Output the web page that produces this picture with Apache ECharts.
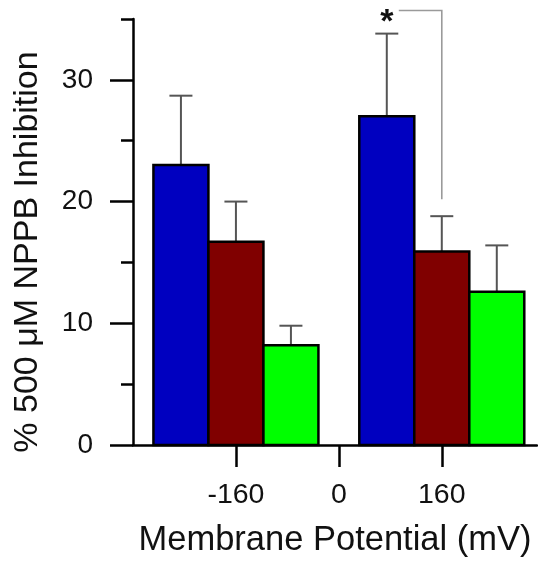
<!DOCTYPE html>
<html><head><meta charset="utf-8">
<script src="https://cdn.jsdelivr.net/npm/echarts@6/dist/echarts.min.js"></script>
<style>html,body{margin:0;padding:0;background:#fff}#c{width:538px;height:563px}</style>
</head><body><div id="c"></div>
<script>
// ---- data ----
const groupPositions = [-160, 160];          // membrane potential (mV)
const xTickValues = [-160, 0, 160];
const yMajorTicks = [0, 10, 20, 30];
const yMinorTicks = [5, 15, 25, 35];
const seriesNames = ['Condition 1', 'Condition 2', 'Condition 3'];
const blueMeans = [23.0, 27.0];
const blueErrors = [5.7, 6.8];
const redMeans = [16.7, 15.9];
const redErrors = [3.3, 2.9];
const greenMeans = [8.2, 12.6];
const greenErrors = [1.6, 3.8];
// significance bracket: at group x, from bar index to bar index, top level, bottom level
const sigX = [160];
const sigFrom = [0];
const sigTo = [1];
const sigTop = [35.7];
const sigBottom = [20.2];
const sigLabel = ['*'];

// ---- style ----
const FONT = "'Liberation Sans', Arial, sans-serif";
const BAR_W = 55;
const CAP_W = 23;
const COLORS = ['#0000C0', '#800000', '#00FF00'];
const ERR_COLOR = '#555555';

function rows(means, errs) {
  return groupPositions.map((x, i) => [x, means[i], errs[i]]);
}

function barRenderer(offsetIndex, color) {
  return function (params, api) {
    const x = api.value(0), m = api.value(1), e = api.value(2);
    const base = api.coord([x, 0]);
    const top = api.coord([x, m]);
    const errTop = api.coord([x, m + e]);
    const cx = base[0] + offsetIndex * BAR_W;
    return {
      type: 'group',
      children: [
        { type: 'line', shape: { x1: cx, y1: top[1], x2: cx, y2: errTop[1] },
          style: { stroke: ERR_COLOR, lineWidth: 2 } },
        { type: 'line', shape: { x1: cx - CAP_W / 2, y1: errTop[1], x2: cx + CAP_W / 2, y2: errTop[1] },
          style: { stroke: ERR_COLOR, lineWidth: 2 } },
        { type: 'rect', shape: { x: cx - BAR_W / 2, y: top[1], width: BAR_W, height: base[1] - top[1] },
          style: { fill: color, stroke: '#000', lineWidth: 2.5 } }
      ]
    };
  };
}

const barSeries = [[blueMeans, blueErrors], [redMeans, redErrors], [greenMeans, greenErrors]].map((d, k) => ({
  name: seriesNames[k],
  type: 'custom',
  xAxisIndex: 0, yAxisIndex: 0,
  clip: false,
  renderItem: barRenderer(k - 1, COLORS[k]),
  encode: { x: 0, y: [1, 2] },
  data: rows(d[0], d[1])
}));

const sigSeries = {
  type: 'custom',
  xAxisIndex: 0, yAxisIndex: 0,
  clip: false,
  silent: true,
  renderItem: function (params, api) {
    const i = params.dataIndex;
    const x = api.value(0);
    const fromIdx = api.value(1), toIdx = api.value(2);
    const topY = api.coord([x, api.value(3)])[1];
    const botY = api.coord([x, api.value(4)])[1];
    const cx = api.coord([x, 0])[0];
    const x1 = cx + (fromIdx - 1) * BAR_W;
    const x2 = cx + (toIdx - 1) * BAR_W;
    return {
      type: 'group',
      children: [
        { type: 'polyline', shape: { points: [[x1 + 12, topY], [x2, topY], [x2, botY]] },
          style: { stroke: '#9a9a9a', lineWidth: 1.6, fill: null } },
        { type: 'text', x: x1, y: topY + 12,
          style: { text: sigLabel[i], fontSize: 34, fontWeight: 'bold', fontFamily: FONT,
                   fill: '#111', align: 'center', verticalAlign: 'middle' } }
      ]
    };
  },
  data: sigX.map((x, i) => [x, sigFrom[i], sigTo[i], sigTop[i], sigBottom[i]])
};

const chart = echarts.init(document.getElementById('c'), null, { renderer: 'canvas' });
chart.setOption({
  animation: false,
  backgroundColor: '#fff',
  grid: { left: 133, right: 1, top: 19, bottom: 113.3, containLabel: false },
  xAxis: {
    type: 'value', min: -320, max: 308,
    axisLine: { show: true, onZero: false, lineStyle: { color: '#000', width: 2.5 } },
    axisTick: { show: true, length: 22, customValues: xTickValues, lineStyle: { color: '#000', width: 2.5 } },
    axisLabel: { customValues: xTickValues, margin: 36, fontSize: 28.5, color: '#111', fontFamily: FONT },
    splitLine: { show: false },
    name: 'Membrane Potential (mV)', nameLocation: 'middle', nameGap: 78,
    nameTextStyle: { fontSize: 34.5, color: '#111', fontFamily: FONT }
  },
  yAxis: [
    {
      type: 'value', min: 0, max: 35, position: 'left',
      axisLine: { show: true, onZero: false, lineStyle: { color: '#000', width: 2.5 } },
      axisTick: { show: true, length: 23, customValues: yMajorTicks, lineStyle: { color: '#000', width: 2.5 } },
      axisLabel: { customValues: yMajorTicks, margin: 40, fontSize: 28, color: '#111', fontFamily: FONT },
      splitLine: { show: false },
      name: '% 500 \u03BCM NPPB Inhibition', nameLocation: 'middle', nameGap: 88,
      nameTextStyle: { fontSize: 34, color: '#111', fontFamily: FONT, padding: [0, 40, 0, 0] }
    },
    {
      type: 'value', min: 0, max: 35, position: 'left', offset: 0,
      axisLine: { show: false, onZero: false },
      axisTick: { show: true, length: 12, customValues: yMinorTicks, lineStyle: { color: '#000', width: 2.5 } },
      axisLabel: { show: false },
      splitLine: { show: false }
    }
  ],
  series: barSeries.concat([sigSeries])
});
</script>
</body></html>
